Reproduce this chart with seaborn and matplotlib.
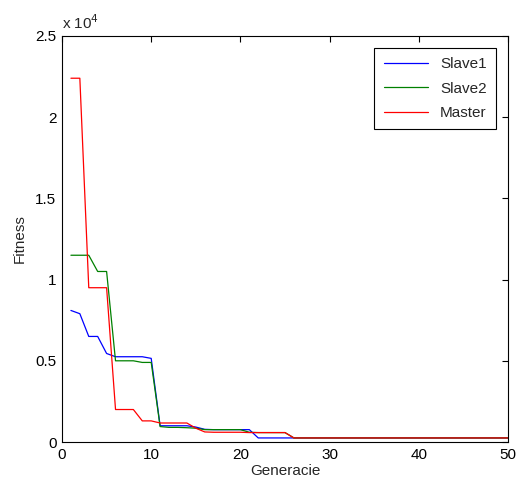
import numpy as np
import pandas as pd
import matplotlib
matplotlib.use("Agg")
import matplotlib.pyplot as plt
import seaborn as sns
from matplotlib.ticker import FuncFormatter, MultipleLocator

generations = list(range(1, 51))

slave1 = [8100, 7900, 6500, 6500, 5450, 5250, 5250, 5250, 5250, 5150,
          1000, 1000, 1000, 1000, 920, 780, 760, 760, 760, 760,
          760] + [250] * 29
slave2 = [11500, 11500, 11500, 10500, 10500, 5000, 5000, 5000, 4900, 4900,
          950, 900, 900, 880, 850, 760, 760, 760, 760, 760,
          600, 580, 580, 580, 580] + [250] * 25
master = [22400, 22400, 9500, 9500, 9500, 2000, 2000, 2000, 1300, 1300,
          1170, 1170, 1170, 1170, 850, 620, 600, 600, 600, 600,
          580, 580, 580, 580, 580] + [250] * 25

series_names = ["Slave1", "Slave2", "Master"]
colors = {"Slave1": "#0000ff", "Slave2": "#008000", "Master": "#ff0000"}

df = pd.concat([
    pd.DataFrame({"Generacie": generations, "Fitness": vals, "series": name})
    for name, vals in zip(series_names, [slave1, slave2, master])
])

sns.set_style("white")
plt.rcParams["font.family"] = ["Liberation Sans", "DejaVu Sans"]

fig = plt.figure(figsize=(5.18, 4.94), dpi=100)
ax = fig.add_axes([62 / 518, 52 / 494, 446 / 518, 406 / 494])

sns.lineplot(data=df, x="Generacie", y="Fitness", hue="series",
             hue_order=series_names, palette=colors, linewidth=0.9, ax=ax)

ax.set_xlim(0, 50)
ax.set_ylim(0, 25000)
ax.xaxis.set_major_locator(MultipleLocator(10))
ax.yaxis.set_major_locator(MultipleLocator(5000))
ax.yaxis.set_major_formatter(FuncFormatter(lambda v, p: f"{v / 1e4:g}"))
ax.tick_params(direction="in", length=4.5, width=0.8, top=True, right=True,
               labelsize=11, colors="black", pad=4)
for s in ax.spines.values():
    s.set_color("black")
    s.set_linewidth(0.8)
ax.set_xlabel("Generacie", fontsize=11, labelpad=2)
ax.set_ylabel("Fitness", fontsize=11, labelpad=6)
ax.text(0.0, 1.01, "x 10$^{4}$", transform=ax.transAxes, fontsize=11,
        ha="left", va="bottom")

leg = ax.legend(loc="upper right", fontsize=11, frameon=True, fancybox=False,
                edgecolor="black", framealpha=1, handlelength=2.9,
                handletextpad=0.8, borderpad=0.6, labelspacing=0.7,
                bbox_to_anchor=(0.99, 0.99))
leg.get_frame().set_linewidth(0.8)

fig.savefig("out.png", dpi=100)
